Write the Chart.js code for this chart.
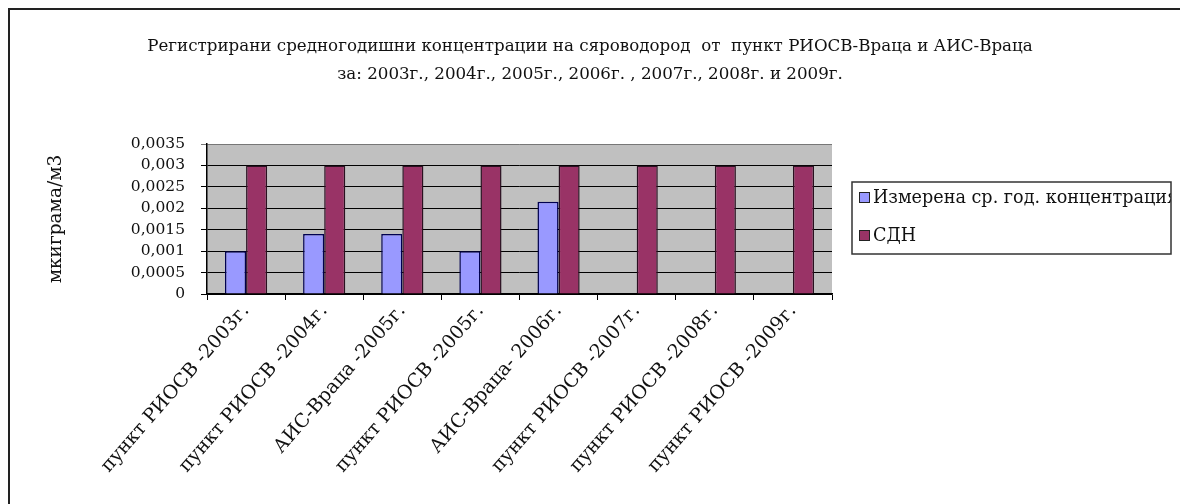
<!DOCTYPE html>
<html lang="bg">

<head>
  <meta charset="UTF-8">
  <title>Сяроводород - РИОСВ-Враца</title>
  <script src="https://cdn.jsdelivr.net/npm/chart.js"></script>
  <style>
    html,
    body {
      margin: 0;
      width: 1180px;
      height: 504px;
      overflow: hidden;
      background: #fff;
    }

    #frame {
      position: absolute;
      left: 8px;
      top: 8px;
      right: -40px;
      bottom: -40px;
      border-top: 2px solid #222;
      border-left: 2px solid #222;
    }

    #wrap {
      position: absolute;
      left: 0;
      top: 0;
      width: 1180px;
      height: 504px;
    }
  </style>
</head>

<body>
  <div id="frame"></div>
  <div id="wrap">
    <canvas id="myChart"></canvas>
  </div>

  <script>
    // данни за графиката
    const titleLines = [
      'Регистрирани средногодишни концентрации на сяроводород  от  пункт РИОСВ-Враца и АИС-Враца',
      'за: 2003г., 2004г., 2005г., 2006г. , 2007г., 2008г. и 2009г.'
    ];
    const categories = [
      'пункт РИОСВ -2003г.',
      'пункт РИОСВ -2004г.',
      'АИС-Враца -2005г.',
      'пункт РИОСВ -2005г.',
      'АИС-Враца- 2006г.',
      'пункт РИОСВ -2007г.',
      'пункт РИОСВ -2008г.',
      'пункт РИОСВ -2009г.'
    ];
    const measured = [0.001, 0.0014, 0.0014, 0.001, 0.00215, null, null, null];
    const sdn = [0.003, 0.003, 0.003, 0.003, 0.003, 0.003, 0.003, 0.003];
    const seriesNames = ['Измерена ср. год. концентрация', 'СДН'];
    const yTickLabels = ['0', '0,0005', '0,001', '0,0015', '0,002', '0,0025', '0,003', '0,0035'];
    const yTitle = 'мкиграма/м3';

    const FONT = '"DejaVu Serif", serif';

    // сив фон на зоната с графиката
    const plotBg = {
      id: 'plotBg',
      beforeDraw(chart) {
        const a = chart.chartArea;
        const ctx = chart.ctx;
        ctx.save();
        ctx.fillStyle = '#c0c0c0';
        ctx.fillRect(a.left, a.top, a.right - a.left, a.bottom - a.top);
        ctx.restore();
      }
    };

    // заглавие на два реда, центрирано по цялата ширина
    const header = {
      id: 'header',
      afterDraw(chart) {
        const ctx = chart.ctx;
        ctx.save();
        ctx.font = '16.7px ' + FONT;
        ctx.fillStyle = '#111';
        ctx.textAlign = 'center';
        ctx.textBaseline = 'middle';
        titleLines.forEach(function (t, i) {
          ctx.fillText(t, chart.width / 2, 47 + i * 28);
        });
        ctx.restore();
      }
    };

    // легенда в рамка вдясно (текстът се отрязва от рамката)
    const boxLegend = {
      id: 'boxLegend',
      afterDraw(chart) {
        const ctx = chart.ctx;
        const x = 852, y = 182, w = 319, h = 72;
        ctx.save();
        ctx.fillStyle = '#fff';
        ctx.fillRect(x, y, w, h);
        ctx.beginPath();
        ctx.rect(x, y, w, h);
        ctx.clip();
        chart.data.datasets.forEach(function (ds, i) {
          const cy = y + 15 + i * 38;
          ctx.fillStyle = ds.backgroundColor;
          ctx.fillRect(x + 7, cy - 5, 10, 10);
          ctx.strokeStyle = '#222';
          ctx.lineWidth = 1;
          ctx.strokeRect(x + 7.5, cy - 4.5, 10, 10);
          ctx.fillStyle = '#111';
          ctx.font = '17.6px ' + FONT;
          ctx.textBaseline = 'middle';
          ctx.fillText(ds.label, x + 21, cy + 1);
        });
        ctx.restore();
        ctx.save();
        ctx.strokeStyle = '#333';
        ctx.lineWidth = 1.5;
        ctx.strokeRect(x, y, w, h);
        ctx.restore();
      }
    };

    new Chart(document.getElementById('myChart'), {
      type: 'bar',
      data: {
        labels: categories,
        datasets: [{
          label: seriesNames[0],
          data: measured,
          backgroundColor: '#9999ff',
          borderColor: '#000050',
          borderWidth: 1.5
        }, {
          label: seriesNames[1],
          data: sdn,
          backgroundColor: '#993366',
          borderColor: '#2a1020',
          borderWidth: 1.5
        }]
      },
      options: {
        responsive: true,
        maintainAspectRatio: false,
        animation: false,
        datasets: {
          bar: {
            categoryPercentage: 0.54,
            barPercentage: 1.0
          }
        },
        layout: {
          padding: { left: 40, right: 348, top: 144, bottom: 0 }
        },
        plugins: {
          legend: { display: false },
          title: { display: false },
          tooltip: { enabled: false }
        },
        scales: {
          x: {
            grid: {
              drawOnChartArea: false,
              color: '#000',
              tickLength: 6
            },
            border: { color: '#000', width: 1.5 },
            ticks: {
              autoSkip: false,
              minRotation: 49,
              maxRotation: 49,
              padding: 0,
              color: '#111',
              font: { family: FONT, size: 19 }
            },
            afterFit(scale) {
              scale.height = 210;
            }
          },
          y: {
            min: 0,
            max: 0.0035,
            ticks: {
              stepSize: 0.0005,
              autoSkip: false,
              padding: 16,
              color: '#111',
              font: { family: FONT, size: 15.5, lineHeight: 1 },
              callback: function (value, index) {
                return yTickLabels[index];
              }
            },
            grid: {
              color: function (c) {
                return c.index === yTickLabels.length - 1 ? '#777' : '#000';
              },
              tickLength: 6
            },
            border: { color: '#000', width: 1.5 },
            title: {
              display: true,
              text: yTitle,
              color: '#111',
              font: { family: FONT, size: 18.5 },
              padding: { top: 5, bottom: 0 }
            },
            afterFit(scale) {
              scale.width = 167;
            }
          }
        }
      },
      plugins: [plotBg, header, boxLegend]
    });
  </script>
</body>

</html>
